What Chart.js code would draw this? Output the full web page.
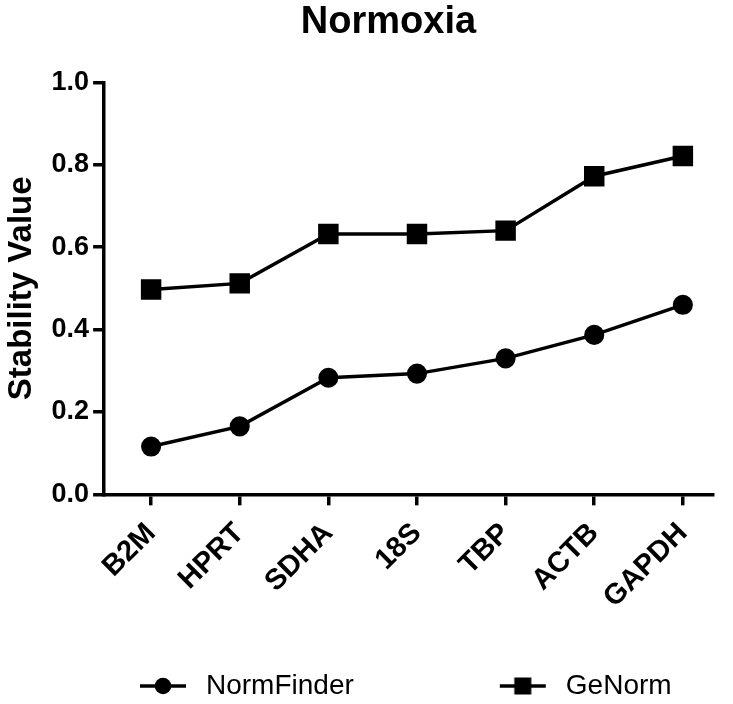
<!DOCTYPE html>
<html>
<head>
<meta charset="utf-8">
<script src="https://cdn.jsdelivr.net/npm/chart.js@4.4.1/dist/chart.umd.min.js"></script>
<style>
  html, body { margin: 0; padding: 0; background: #fff; }
  canvas { display: block; }
</style>
</head>
<body>
<canvas id="chart" width="733" height="704"></canvas>
<script>
const categories = ['B2M', 'HPRT', 'SDHA', '18S', 'TBP', 'ACTB', 'GAPDH'];
const normFinder = [0.116, 0.165, 0.283, 0.293, 0.330, 0.387, 0.460];
const geNorm = [0.497, 0.512, 0.632, 0.632, 0.640, 0.772, 0.821];
const yTicks = [0.0, 0.2, 0.4, 0.6, 0.8, 1.0];

const LEGEND_GAP = 142;

function toPoints(values) {
  return values.map((v, i) => ({ x: i, y: v }));
}

// legend swatch: short line with the marker on it
function legendIcon(style) {
  const c = document.createElement('canvas');
  c.width = 56;
  c.height = 24;
  const g = c.getContext('2d');
  g.strokeStyle = '#000';
  g.fillStyle = '#000';
  g.lineWidth = 3.5;
  g.beginPath();
  g.moveTo(4, 12);
  g.lineTo(50, 12);
  g.stroke();
  if (style === 'circle') {
    g.beginPath();
    g.arc(27, 12, 8.3, 0, Math.PI * 2);
    g.fill();
  } else {
    g.fillRect(18.5, 3.5, 17, 17);
  }
  return c;
}

const ctx = document.getElementById('chart').getContext('2d');
new Chart(ctx, {
  type: 'line',
  data: {
    datasets: [
      {
        label: 'NormFinder',
        data: toPoints(normFinder),
        borderColor: '#000',
        backgroundColor: '#000',
        borderWidth: 3.5,
        pointStyle: 'circle',
        pointRadius: 8.3,
        pointHoverRadius: 8.3,
        tension: 0
      },
      {
        label: 'GeNorm',
        data: toPoints(geNorm),
        borderColor: '#000',
        backgroundColor: '#000',
        borderWidth: 3.5,
        pointStyle: 'rect',
        pointRadius: 12,
        pointHoverRadius: 12,
        tension: 0
      }
    ]
  },
  options: {
    responsive: false,
    animation: false,
    layout: { padding: { top: 0, right: 20, bottom: 0, left: 0 } },
    scales: {
      x: {
        type: 'linear',
        min: -0.53,
        max: 6.34,
        afterBuildTicks: axis => { axis.ticks = categories.map((c, i) => ({ value: i })); },
        ticks: {
          color: '#000',
          font: { family: 'Liberation Sans', size: 29, weight: 'bold' },
          minRotation: 45,
          maxRotation: 45,
          padding: 11,
          callback: v => categories[v]
        },
        grid: { drawOnChartArea: false, drawTicks: true, tickLength: 11, color: '#000', lineWidth: 3.5 },
        border: { display: true, color: '#000', width: 3.5 }
      },
      y: {
        min: 0,
        max: 1,
        afterBuildTicks: axis => { axis.ticks = yTicks.map(v => ({ value: v })); },
        ticks: {
          color: '#000',
          font: { family: 'Liberation Sans', size: 27, weight: 'bold' },
          padding: 4,
          callback: v => v.toFixed(1)
        },
        title: {
          display: true,
          text: 'Stability Value',
          color: '#000',
          font: { family: 'Liberation Sans', size: 33, weight: 'bold' },
          padding: { top: 2, bottom: 6 }
        },
        grid: { drawOnChartArea: false, drawTicks: true, tickLength: 11, color: '#000', lineWidth: 3.5 },
        border: { display: true, color: '#000', width: 3.5 }
      }
    },
    plugins: {
      title: {
        display: true,
        text: 'Normoxia',
        color: '#000',
        font: { family: 'Liberation Sans', size: 38, weight: 'bold', lineHeight: 0.85 },
        padding: { top: 6, bottom: 44 }
      },
      legend: {
        position: 'bottom',
        align: 'start',
        labels: {
          color: '#000',
          font: { family: 'Liberation Sans', size: 28 },
          usePointStyle: true,
          pointStyleWidth: 56,
          padding: LEGEND_GAP,
          generateLabels: chart => chart.data.datasets.map((d, i) => ({
            text: d.label,
            pointStyle: legendIcon(d.pointStyle),
            datasetIndex: i,
            fontColor: '#000',
            lineWidth: 0,
            strokeStyle: 'transparent',
            fillStyle: 'transparent'
          }))
        }
      },
      tooltip: { enabled: false }
    }
  },
  plugins: [{
    id: 'legendPlace',
    beforeInit(chart) {
      const fit = chart.legend.fit;
      chart.legend.fit = function () {
        fit.call(this);
        this.height = 78;
      };
    },
    afterLayout(chart) {
      // one legend row low under the plot, title centred over the plot
      const lg = chart.legend;
      lg.left = 136 - LEGEND_GAP;
      lg.right = chart.width + 100;
      lg.top = 672 - LEGEND_GAP;
      chart.titleBlock.left += 32;
      chart.titleBlock.right += 32;
    }
  }]
});
</script>
</body>
</html>
